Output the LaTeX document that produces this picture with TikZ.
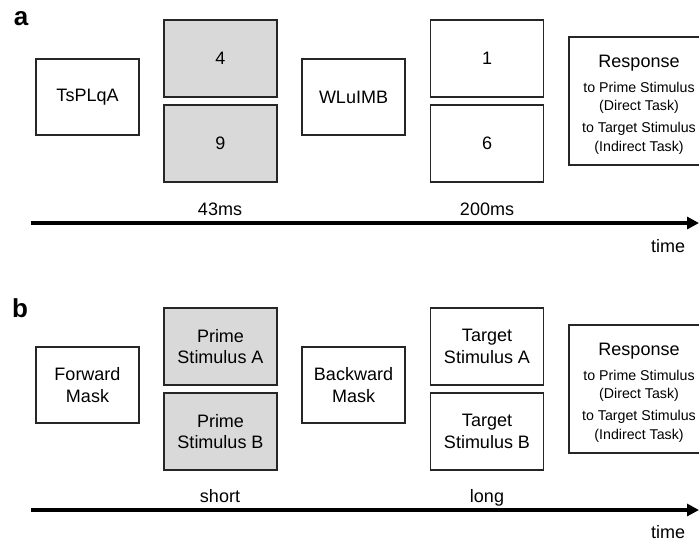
\documentclass[tikz,border=0pt]{standalone}
\usepackage{fontspec}
\setmainfont{Liberation Sans}
\usetikzlibrary{arrows.meta,positioning}

\newcommand{\smtxt}{\fontsize{7.1}{9.2}\selectfont}
\newcommand{\bigtxt}{\fontsize{9}{9.2}\selectfont\rule{0pt}{9.9pt}}

\begin{document}
\begin{tikzpicture}[x=0.5pt,y=-0.5pt,font=\fontsize{9}{10.8}\selectfont,
  mask/.style={draw=black!85,line width=0.65pt,minimum width=51.5pt,minimum height=38pt,align=center,inner sep=1pt},
  prime/.style={draw=black!85,fill=black!15,line width=0.65pt,minimum width=56.5pt,minimum height=38.5pt,align=center,inner sep=1pt},
  target/.style={prime,fill=white},
  resp/.style={draw=black!85,line width=0.65pt,minimum width=70pt,minimum height=64pt,align=center,inner sep=1pt,font=\smtxt},
  lbl/.style={font=\fontsize{13}{13}\selectfont\bfseries},
  dur/.style={anchor=base},
  axis/.style={line width=2pt,-{Triangle[length=6pt,width=6pt]}}]
\clip (0,0) rectangle (699,543);
% panel a
\node[lbl](la) at(21,19){a};
\node[mask](ma1) at(87.5,97){TsPLqA};
\node[prime](pa1) at(220.5,58.5){4};
\node[prime](pa2) at(220.5,143.5){9};
\node[mask](ma2) at(353.5,97){WLuIMB};
\node[target](ta1) at(487,58.5){1};
\node[target](ta2) at(487,143.5){6};
\node[resp](ra) at(639,101){\bigtxt Response\\[3pt]to Prime Stimulus\\(Direct Task)\\[1.8pt]to Target Stimulus\\(Indirect Task)};
\node[dur](da1) at(220,215){43ms};
\node[dur](da2) at(487,215){200ms};
\coordinate(sa) at(31,223);
\coordinate(ea) at(699,223);
\draw[axis](sa)--(ea);
\node[dur](tma) at(668,252){time};
% panel b
\node[lbl](lb) at(20,308){b};
\node[mask](mb1) at(87.5,385){Forward\\Mask};
\node[prime](pb1) at(220.5,346.5){Prime\\Stimulus A};
\node[prime](pb2) at(220.5,431.5){Prime\\Stimulus B};
\node[mask](mb2) at(353.5,385){Backward\\Mask};
\node[target](tb1) at(487,346.5){Target\\Stimulus A};
\node[target](tb2) at(487,431.5){Target\\Stimulus B};
\node[resp](rb) at(639,389){\bigtxt Response\\[3pt]to Prime Stimulus\\(Direct Task)\\[1.8pt]to Target Stimulus\\(Indirect Task)};
\node[dur](db1) at(220,502){short};
\node[dur](db2) at(487,502){long};
\coordinate(sb) at(31,510);
\coordinate(eb) at(699,510);
\draw[axis](sb)--(eb);
\node[dur](tmb) at(668,538){time};
\end{tikzpicture}
\end{document}
